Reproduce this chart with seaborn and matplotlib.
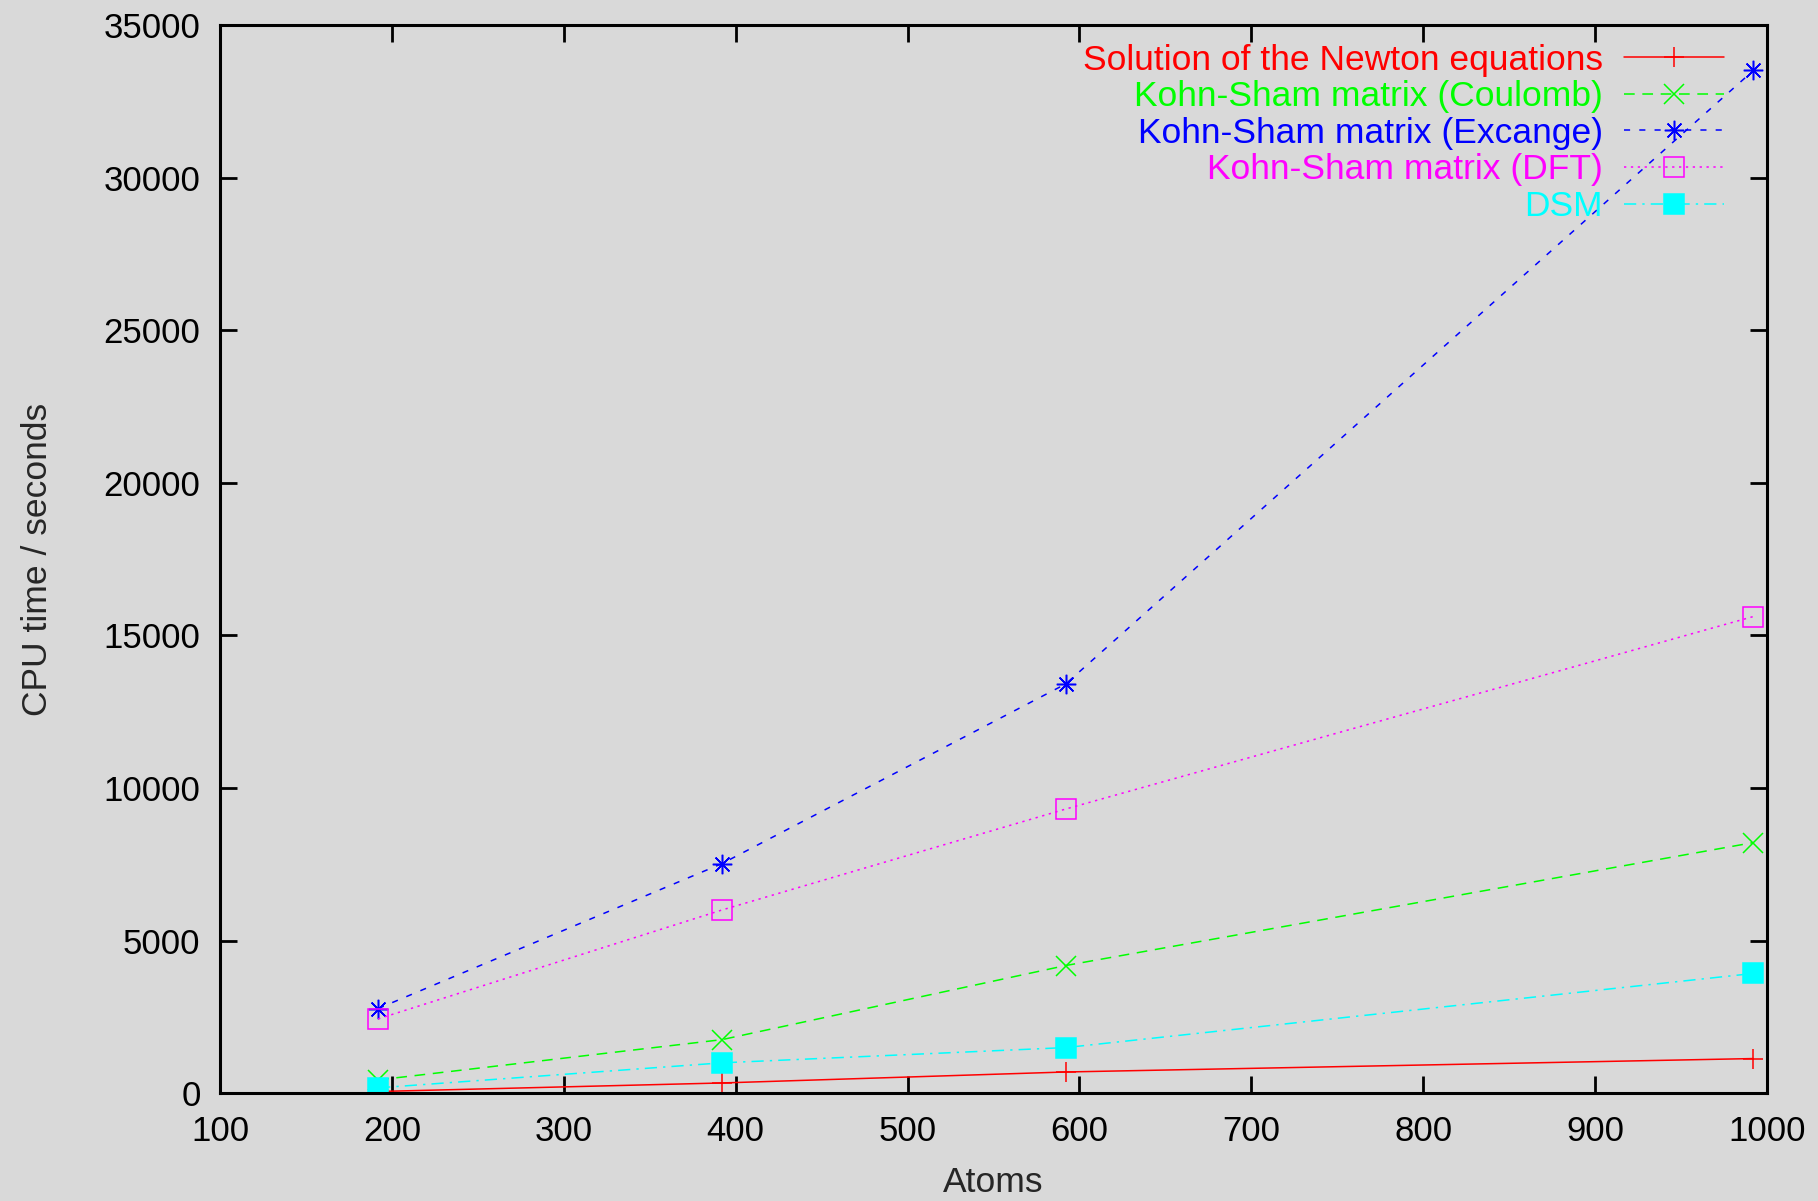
import numpy as np
import pandas as pd
import matplotlib
matplotlib.use('Agg')
import matplotlib.pyplot as plt
import seaborn as sns

# Data
atoms = [192, 392, 592, 992]
newton = [50, 330, 690, 1130]
coulomb = [430, 1750, 4180, 8210]
excange = [2770, 7520, 13410, 33520]
dft = [2430, 6000, 9310, 15620]
dsm = [170, 990, 1490, 3920]

labels = ['Solution of the Newton equations', 'Kohn-Sham matrix (Coulomb)',
          'Kohn-Sham matrix (Excange)', 'Kohn-Sham matrix (DFT)', 'DSM']
series = [newton, coulomb, excange, dft, dsm]

sns.set_style('ticks')
plt.rcParams['font.family'] = ['Liberation Sans', 'DejaVu Sans']
plt.rcParams['font.size'] = 25.5

BG = '#d9d9d9'
fig = plt.figure(figsize=(18.18, 12.01), dpi=100, facecolor=BG)
ax = fig.add_axes([0.121, 0.0899, 0.851, 0.889])
ax.set_facecolor(BG)

styles = [
    dict(color='#ff0000', marker='+', linestyle='-', mfc='#ff0000'),
    dict(color='#00ff00', marker='x', linestyle=(0, (7, 5)), mfc='#00ff00'),
    dict(color='#0000ff', marker=(8, 2, 0), linestyle=(0, (4, 6)), mfc='#0000ff'),
    dict(color='#ff00ff', marker='s', linestyle=(0, (1.5, 3)), mfc='none'),
    dict(color='#00ffff', marker='s', linestyle=(0, (8, 4, 1.5, 4)), mfc='#00ffff'),
]

for vals, lab, st in zip(series, labels, styles):
    df = pd.DataFrame({'Atoms': atoms, 'CPU': vals})
    sns.lineplot(data=df, x='Atoms', y='CPU', ax=ax, label=lab,
                 color=st['color'], marker=st['marker'], linestyle=st['linestyle'],
                 markerfacecolor=st['mfc'], markeredgecolor=st['color'],
                 markersize=14, markeredgewidth=1.1, linewidth=1.1)

ax.set_xlim(100, 1000)
ax.set_ylim(0, 35000)
ax.set_xticks(np.arange(100, 1001, 100))
ax.set_yticks(np.arange(0, 35001, 5000))
ax.tick_params(direction='in', length=12, width=2, top=True, right=True,
               labelsize=25, colors='black')
ax.tick_params(axis='x', pad=16)
ax.tick_params(axis='y', pad=14)
for s in ax.spines.values():
    s.set_visible(True)
    s.set_linewidth(2.2)
    s.set_color('black')

ax.set_xlabel('Atoms', fontsize=25.5, labelpad=13)
ax.set_ylabel('CPU time / seconds', fontsize=25.5, labelpad=36)

leg = ax.legend(loc='upper right', bbox_to_anchor=(0.981, 0.996), borderaxespad=0,
                frameon=False, markerfirst=False, labelcolor='linecolor',
                handlelength=2.8, labelspacing=0.1, handletextpad=0.6,
                numpoints=1, fontsize=25.5)

fig.savefig('out.png', dpi=100, facecolor=BG)
